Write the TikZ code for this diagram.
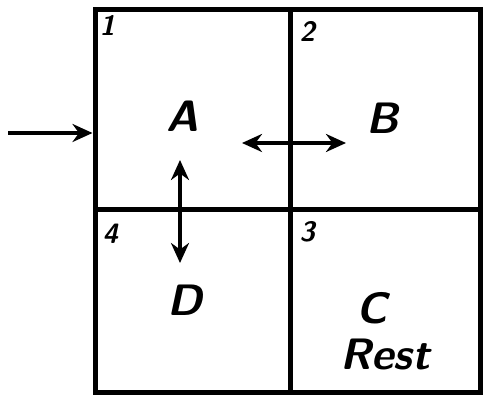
\documentclass[tikz,border=0pt]{standalone}
\usepackage{tikz}
\usetikzlibrary{arrows.meta,positioning,calc}

\begin{document}
\begin{tikzpicture}[
    x=1pt, y=-1pt,
    cell/.style={draw, line width=5pt, inner sep=0pt},
    num/.style={anchor=north west, inner sep=0pt, font=\fontsize{28}{28}\selectfont\sffamily\bfseries\itshape},
    letter/.style={inner sep=2pt, font=\fontsize{44}{44}\selectfont\sffamily\bfseries\itshape},
    arrow/.style={-{Stealth[length=20pt, width=18pt]}, line width=4pt},
    dblarrow/.style={{Stealth[length=20pt, width=18pt]}-{Stealth[length=20pt, width=18pt]}, line width=4pt}
]
\useasboundingbox (0,0) rectangle (490,411);

% Cells of the grid
\node[cell, minimum width=195pt, minimum height=200pt] (c1) at (192.5,110) {};
\node[cell, minimum width=190pt, minimum height=200pt] (c2) at (385,110) {};
\node[cell, minimum width=190pt, minimum height=183pt] (c3) at (385,301.5) {};
\node[cell, minimum width=195pt, minimum height=183pt] (c4) at (192.5,301.5) {};

% Cell numbers
\node[num] (n1) at ([shift={(7,8)}]c1.north west) {1};
\node[num] (n2) at ([shift={(12,14)}]c2.north west) {2};
\node[num] (n3) at ([shift={(12,14)}]c3.north west) {3};
\node[num] (n4) at ([shift={(10,16)}]c4.north west) {4};

% Cell letters
\node[letter] (A) at (183,116) {A};
\node[letter] (B) at (383,118) {B};
\node[letter] (C) at (372,308) {C};
\node[letter] (rest) at (385,354) {Rest};
\node[letter] (D) at (185,300) {D};

% Arrows
\coordinate (src) at (8,133);
\coordinate (ab-l) at (242,143);
\coordinate (ab-r) at (346,143);
\coordinate (ad-t) at (180,160);
\coordinate (ad-b) at (180,263);
\draw[arrow] (src) -- (src -| c1.west);
\draw[dblarrow] (ab-l) -- (ab-r);
\draw[dblarrow] (ad-t) -- (ad-b);
\end{tikzpicture}
\end{document}
